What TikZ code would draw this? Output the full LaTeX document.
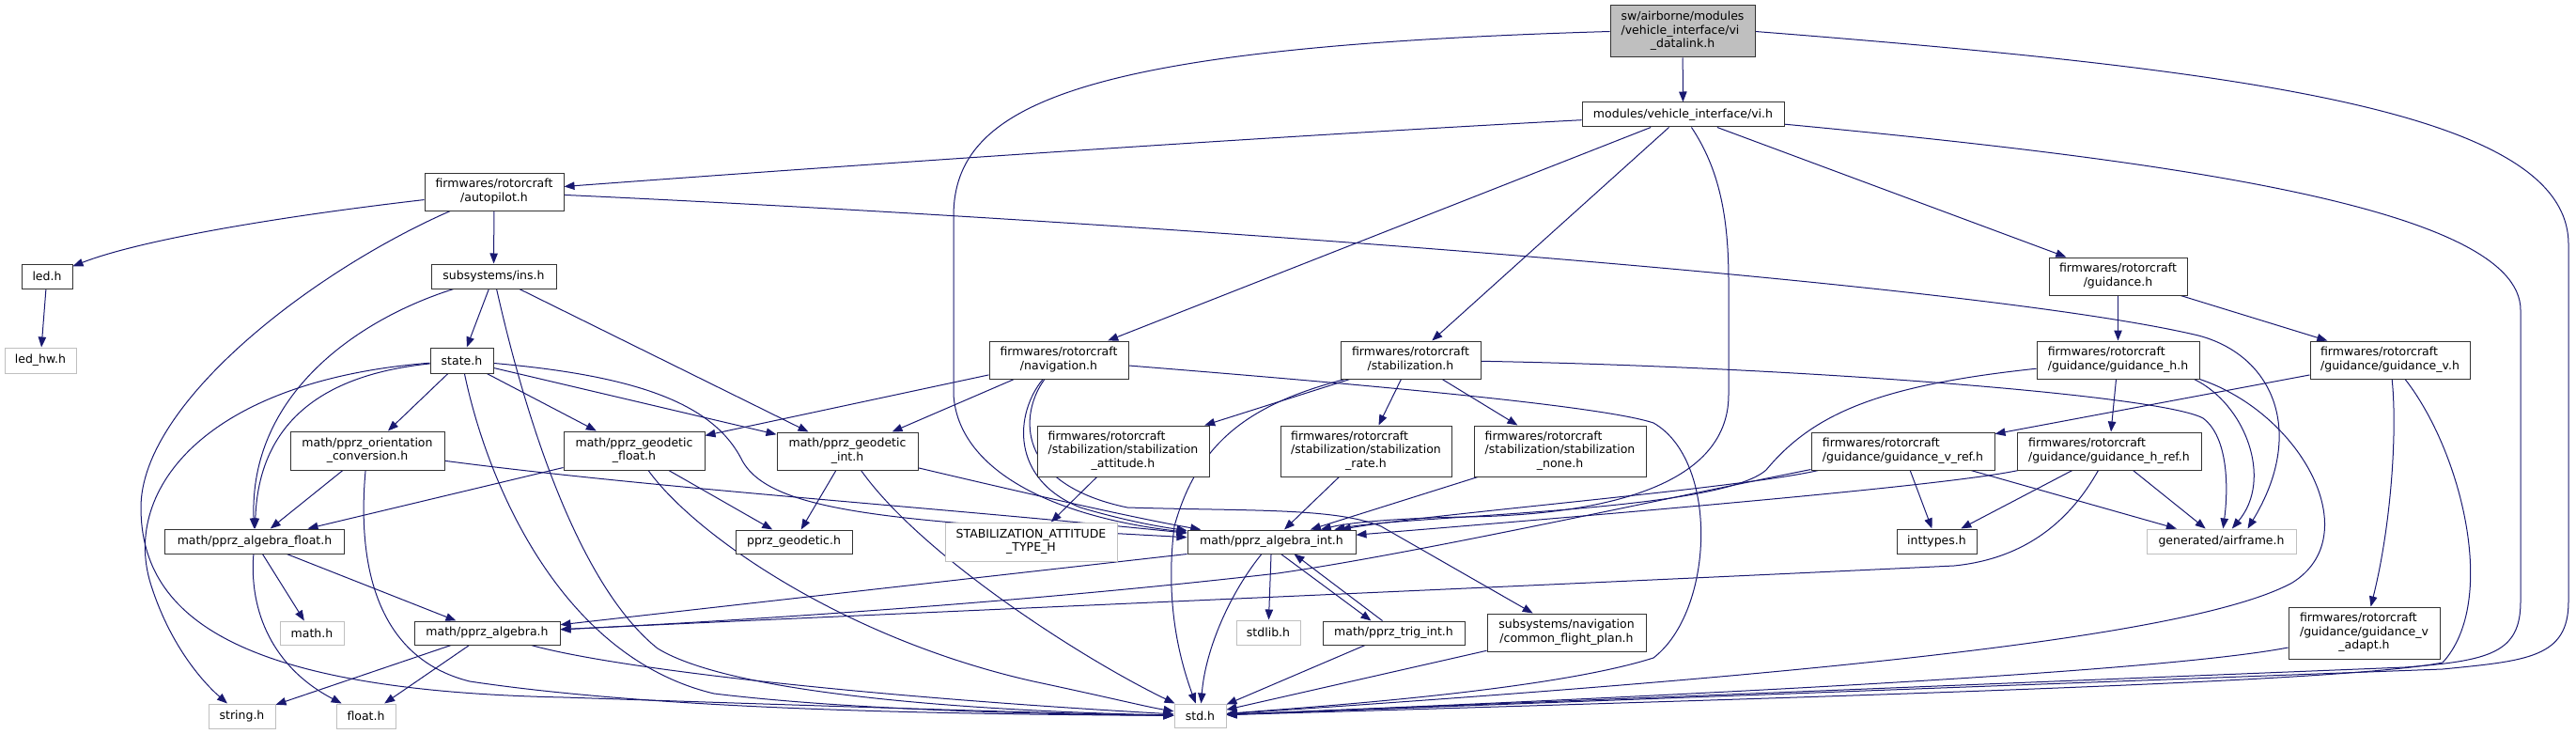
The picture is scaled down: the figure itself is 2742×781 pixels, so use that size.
\documentclass[tikz,border=0pt]{standalone}
\usepackage{fontspec}
\setmainfont{DejaVu Sans}
\usetikzlibrary{arrows.meta,calc}
\definecolor{edgec}{HTML}{191970}
\definecolor{gseventy}{HTML}{BFBFBF}
\definecolor{nborder}{HTML}{333333}
\newcommand\fs{\fontsize{6.25pt}{7.2pt}\selectfont}
\newcommand\twol[2]{\begin{tabular}{@{}l@{}}#1\\\multicolumn{1}{@{}c@{}}{#2}\end{tabular}}
\newcommand\threel[3]{\begin{tabular}{@{}l@{}}#1\\#2\\\multicolumn{1}{@{}c@{}}{#3}\end{tabular}}
\newcommand\nd[7]{\node[#6,minimum width=#4*0.5pt,minimum height=#5*0.5pt] (#1) at (#2,#3) {#7};}
\pgfdeclarelayer{bg}
\pgfsetlayers{bg,main}
\tikzset{
  bn/.style={draw=nborder,line width=0.5pt,fill=white,inner sep=0pt,font=\fs},
  gn/.style={bn,draw=gseventy},
  topn/.style={bn,fill=gseventy},
  e/.style={draw=edgec,line width=0.5pt,-{Triangle[length=5.5pt,width=4.2pt]}}
}
\begin{document}
\begin{tikzpicture}[x=0.5pt,y=-0.5pt]
\useasboundingbox (0,0) rectangle (2742,781);
\nd{vidl}{1791}{33.5}{154}{55}{topn}{\threel{sw/airborne/modules}{/vehicle\_interface/vi}{\_datalink.h}}
\nd{vi}{1791.5}{122}{215}{26}{bn}{modules/vehicle\_interface/vi.h}
\nd{autopilot}{526}{204}{148}{40}{bn}{\twol{firmwares/rotorcraft}{/autopilot.h}}
\nd{led}{50}{294}{54}{26}{bn}{led.h}
\nd{ledhw}{43}{383.5}{76}{27}{gn}{led\_hw.h}
\nd{ins}{525.5}{294}{133}{26}{bn}{subsystems/ins.h}
\nd{state}{491.5}{383.5}{67}{27}{bn}{state.h}
\nd{orient}{391}{479.5}{164}{41}{bn}{\twol{math/pprz\_orientation}{\_conversion.h}}
\nd{geofloat}{675}{479.5}{150}{41}{bn}{\twol{math/pprz\_geodetic}{\_float.h}}
\nd{geoint}{902}{480}{150}{40}{bn}{\twol{math/pprz\_geodetic}{\_int.h}}
\nd{geodetic}{845}{576.5}{124}{25}{bn}{pprz\_geodetic.h}
\nd{algfloat}{271}{576}{191}{26}{bn}{math/pprz\_algebra\_float.h}
\nd{mathh}{332}{673.5}{68}{25}{gn}{math.h}
\nd{algebra}{518.5}{673.5}{155}{25}{bn}{math/pprz\_algebra.h}
\nd{stringh}{257.5}{762}{71}{26}{gn}{string.h}
\nd{floath}{389.5}{762}{63}{26}{gn}{float.h}
\nd{navigation}{1127}{383}{148}{40}{bn}{\twol{firmwares/rotorcraft}{/navigation.h}}
\nd{stabil}{1501.5}{383}{149}{40}{bn}{\twol{firmwares/rotorcraft}{/stabilization.h}}
\nd{stabatt}{1195.5}{480}{183}{54}{bn}{\threel{firmwares/rotorcraft}{/stabilization/stabilization}{\_attitude.h}}
\nd{stabtype}{1097.5}{576.5}{183}{41}{gn}{\twol{STABILIZATION\_ATTITUDE}{\_TYPE\_H}}
\nd{algint}{1353.5}{576.5}{179}{25}{bn}{math/pprz\_algebra\_int.h}
\nd{stdlib}{1350}{673}{68}{26}{gn}{stdlib.h}
\nd{trig}{1483.5}{673.5}{151}{25}{bn}{math/pprz\_trig\_int.h}
\nd{stdh}{1277.5}{761.5}{55}{25}{gn}{std.h}
\nd{rate}{1454}{480}{182}{54}{bn}{\threel{firmwares/rotorcraft}{/stabilization/stabilization}{\_rate.h}}
\nd{stabnone}{1660.5}{480}{183}{54}{bn}{\threel{firmwares/rotorcraft}{/stabilization/stabilization}{\_none.h}}
\nd{cfp}{1667.5}{673}{169}{40}{bn}{\twol{subsystems/navigation}{/common\_flight\_plan.h}}
\nd{guidance}{2254.5}{294}{147}{40}{bn}{\twol{firmwares/rotorcraft}{/guidance.h}}
\nd{gh}{2254.5}{383}{173}{40}{bn}{\twol{firmwares/rotorcraft}{/guidance/guidance\_h.h}}
\nd{gv}{2544}{383}{170}{40}{bn}{\twol{firmwares/rotorcraft}{/guidance/guidance\_v.h}}
\nd{vref}{2025.5}{480}{195}{40}{bn}{\twol{firmwares/rotorcraft}{/guidance/guidance\_v\_ref.h}}
\nd{href}{2245}{480}{196}{40}{bn}{\twol{firmwares/rotorcraft}{/guidance/guidance\_h\_ref.h}}
\nd{inttypes}{2061.5}{576}{85}{26}{bn}{inttypes.h}
\nd{airframe}{2364.5}{576}{159}{26}{gn}{generated/airframe.h}
\nd{vadapt}{2516.5}{673.5}{161}{55}{bn}{\threel{firmwares/rotorcraft}{/guidance/guidance\_v}{\_adapt.h}}

\begin{pgfonlayer}{bg}
% vi_datalink
\draw[e] (vidl) -- (vi);
\draw[e] (vidl.west) .. controls (1150,50) and (1015,110) .. (1015,230) -- (1015,420) .. controls (1020,500) and (1120,550) .. (algint);
\draw[e] (vidl.east) .. controls (2400,75) and (2734,120) .. (2734,260) -- (2734,640) .. controls (2734,700) and (2690,703) .. (2600,712) -- (stdh);
% vi
\draw[e] (vi) .. controls (1300,148) and (850,180) .. (autopilot);
\draw[e] (vi) -- (navigation);
\draw[e] (vi) -- (stabil);
\draw[e] (vi) .. controls (1830,180) and (1840,230) .. (1840,300) -- (1840,420) .. controls (1840,520) and (1700,548) .. (1560,550) .. controls (1500,551) and (1440,555) .. (algint);
\draw[e] (vi) -- (guidance);
\draw[e] (vi) .. controls (2300,170) and (2683,220) .. (2683,330) -- (2683,640) .. controls (2683,695) and (2650,703) .. (2560,710) -- (stdh);
% autopilot
\draw[e] (autopilot) .. controls (300,230) and (150,255) .. (led);
\draw[e] (autopilot) .. controls (330,290) and (150,430) .. (150,540) .. controls (150,660) and (260,735) .. (600,742) .. controls (900,752) and (1150,760) .. (stdh);
\draw[e] (autopilot) -- (ins);
\draw[e] (autopilot) .. controls (1200,235) and (2100,300) .. (2340,357) .. controls (2420,378) and (2455,460) .. ($(airframe.north)+(28,0)$);
\draw[e] (led) -- (ledhw);
% ins
\draw[e] (ins) .. controls (380,340) and (265,420) .. (algfloat);
\draw[e] (ins) -- (state);
\draw[e] (ins) .. controls (545,380) and (600,610) .. (700,690) .. controls (790,745) and (1100,758) .. (stdh);
\draw[e] (ins) -- (geoint);
% state
\draw[e] (state) .. controls (330,400) and (275,460) .. (algfloat);
\draw[e] (state) .. controls (220,405) and (130,520) .. (160,620) .. controls (180,685) and (215,725) .. (stringh);
\draw[e] (state) -- (orient);
\draw[e] (state) .. controls (520,520) and (600,700) .. (760,738) .. controls (900,755) and (1100,760) .. (stdh);
\draw[e] (state) -- (geofloat);
\draw[e] (state) -- (geoint);
\draw[e] (state) .. controls (680,400) and (760,430) .. (790,490) .. controls (820,545) and (950,555) .. (algint);
% orientation
\draw[e] (orient) -- (algfloat);
\draw[e] (orient) .. controls (380,600) and (400,700) .. (500,725) .. controls (700,755) and (1000,760) .. (stdh);
\draw[e] (orient) .. controls (700,520) and (1000,540) .. (algint);
% geodetic float / int
\draw[e] (geofloat) -- (algfloat);
\draw[e] (geofloat) .. controls (740,570) and (900,680) .. (1100,725) .. controls (1180,742) and (1220,752) .. (stdh);
\draw[e] (geofloat) -- (geodetic);
\draw[e] (geoint) -- (geodetic);
\draw[e] (geoint) .. controls (980,590) and (1150,700) .. (stdh);
\draw[e] (geoint) .. controls (1050,515) and (1200,550) .. (algint);
% navigation
\draw[e] (navigation) -- (geofloat);
\draw[e] (navigation) -- (geoint);
\draw[e] (navigation) .. controls (1080,440) and (1075,510) .. (1150,540) .. controls (1190,552) and (1230,560) .. (algint);
\draw[e] (navigation) .. controls (1085,440) and (1080,515) .. (1200,540) .. controls (1330,544) and (1420,540) .. (1470,560) -- (cfp);
\draw[e] (navigation) .. controls (1400,405) and (1700,430) .. (1760,450) .. controls (1830,490) and (1825,650) .. (1760,700) .. controls (1650,735) and (1400,752) .. (stdh);
% stabilization
\draw[e] (stabil) -- (stabatt);
\draw[e] (stabil) -- (rate);
\draw[e] (stabil) -- (stabnone);
\draw[e] ($(stabil.south west)+(5,0)$) .. controls (1330,430) and (1275,470) .. (1250,560) .. controls (1240,640) and (1255,700) .. (stdh);
\draw[e] (stabil) .. controls (1900,390) and (2300,420) .. (2345,445) .. controls (2372,465) and (2372,520) .. (airframe);
\draw[e] (stabatt) -- (stabtype);
\draw[e] (rate) -- (algint);
\draw[e] (stabnone) -- (algint);
% algebra int
\draw[e] (algint.south west) -- (algebra);
\draw[e] (algint) -- (stdlib);
\draw[e] (algint) .. controls (1310,630) and (1283,690) .. (stdh);
\draw[e] ($(algint.south)+(10,0)$) -- ($(trig.north)+(-24,0)$);
\draw[e] ($(trig.north)+(-12,0)$) -- ($(algint.south)+(24,0)$);
\draw[e] (trig) -- (stdh);
\draw[e] (cfp) -- (stdh);
% algebra
\draw[e] (algebra) -- (stringh);
\draw[e] (algebra) -- (floath);
\draw[e] (algebra) .. controls (650,710) and (900,740) .. (stdh);
\draw[e] (algfloat) -- (mathh);
\draw[e] (algfloat) -- (algebra);
\draw[e] (algfloat) .. controls (265,650) and (290,710) .. (floath);
% guidance
\draw[e] (guidance) -- (gh);
\draw[e] (guidance) -- (gv);
\draw[e] (gh) -- (href);
\draw[e] (gh) .. controls (2000,410) and (1930,440) .. (1880,500) .. controls (1830,545) and (1500,548) .. (algint);
\draw[e] ($(gh.south east)+(-6,0)$) .. controls (2390,430) and (2420,510) .. (airframe);
\draw[e] (gh.south east) .. controls (2450,440) and (2520,570) .. (2440,620) .. controls (2330,680) and (1900,720) .. (stdh);
\draw[e] (gv) -- (vref);
\draw[e] (gv) .. controls (2552,460) and (2545,560) .. (vadapt);
\draw[e] (gv) .. controls (2620,480) and (2660,640) .. (2600,705) .. controls (2500,725) and (2000,740) .. (stdh);
\draw[e] (vadapt) .. controls (2300,715) and (1800,740) .. (stdh);
\draw[e] (vref) -- (inttypes);
\draw[e] (vref) -- (airframe);
\draw[e] (vref) .. controls (1850,520) and (1520,547) .. (algint);
\draw[e] (vref) .. controls (1750,535) and (1500,590) .. (1360,610) .. controls (1100,640) and (800,660) .. (algebra);
\draw[e] (href) -- (inttypes);
\draw[e] (href) -- (airframe);
\draw[e] (href) .. controls (2080,515) and (1800,540) .. (algint);
\draw[e] (href) .. controls (2200,560) and (2150,595) .. (2080,602) .. controls (1600,625) and (900,655) .. (algebra);
\end{pgfonlayer}
\end{tikzpicture}
\end{document}
